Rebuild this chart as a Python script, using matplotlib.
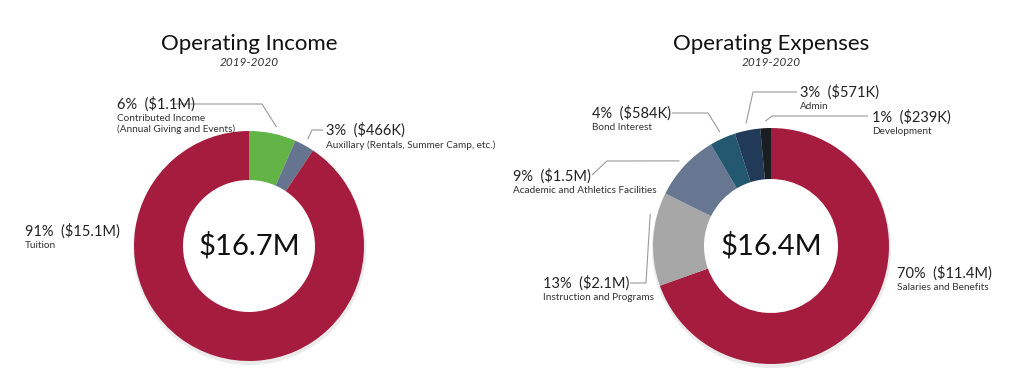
import numpy as np
import matplotlib
matplotlib.use("Agg")
import matplotlib.pyplot as plt

W, H = 1032, 391
plt.rcParams['font.family'] = ['Lato', 'DejaVu Sans']

# Operating income 2019-2020 ($M)
inc_names = ['Contributed Income\n(Annual Giving and Events)',
             'Auxillary (Rentals, Summer Camp, etc.)', 'Tuition']
inc_values = [1.1, 0.466, 15.1]
inc_pct = ['6%', '3%', '91%']
inc_amt = ['$1.1M', '$466K', '$15.1M']
inc_colors = ['#62b446', '#66758f', '#a51c3f']

# Operating expenses 2019-2020 ($M)
exp_names = ['Salaries and Benefits', 'Instruction and Programs',
             'Academic and Athletics Facilities', 'Bond Interest', 'Admin', 'Development']
exp_values = [11.4, 2.1, 1.5, 0.584, 0.571, 0.239]
exp_pct = ['70%', '13%', '9%', '4%', '3%', '1%']
exp_amt = ['$11.4M', '$2.1M', '$1.5M', '$584K', '$571K', '$239K']
exp_colors = ['#a51c3f', '#a7a7a7', '#677791', '#235870', '#213a58', '#1a1e22']

fig = plt.figure(figsize=(W / 100, H / 100), dpi=100)
ax = fig.add_axes([0, 0, 1, 1])


def Y(y):
    return H - y


def donut(cx, cy, r, r_in, values, colors, total, title):
    # faint drop shadow outside the ring only
    ax.pie([1], colors=['#ebebeb'], radius=r + 1.5, center=(cx + 0.5, Y(cy + 2.5)), frame=True,
           wedgeprops=dict(width=r - r_in - 8, edgecolor='none', linewidth=0))
    ax.pie(values, colors=colors, startangle=90, counterclock=False,
           radius=r, center=(cx, Y(cy)), frame=True,
           wedgeprops=dict(width=r - r_in, edgecolor='none', linewidth=0))
    ax.text(cx, Y(cy), total, ha='center', va='center', fontsize=21, color='#111111')
    ax.text(cx, Y(44), title, ha='center', va='center', fontsize=16, color='#111111')
    ax.text(cx, Y(63), '2019-2020', ha='center', va='center', fontsize=8.5,
            style='italic', color='#333333')
    return np.cumsum([0] + list(values)) / sum(values)


def label(x, y, pct, amt, name):
    ax.text(x, Y(y), f'{pct}  ({amt})', ha='left', va='center', fontsize=10.5, color='#222222')
    ax.text(x, Y(y + 10), name, ha='left', va='top', fontsize=7.2, color='#333333',
            linespacing=1.25)


def leader(cx, cy, r, frac, pos, path):
    ang = np.deg2rad(90 - 360 * (frac[pos[0]] + pos[1] * (frac[pos[0] + 1] - frac[pos[0]])))
    px = cx + r * np.cos(ang)
    py = cy - r * np.sin(ang)
    xs = [p[0] for p in path] + [px]
    ys = [Y(p[1]) for p in path] + [Y(py)]
    ax.plot(xs, ys, color='#9a9a9a', lw=0.8, solid_capstyle='butt')


# income donut
icx, icy = 249, 246
fi = donut(icx, icy, 115, 66, inc_values, inc_colors, '$16.7M', 'Operating Income')
label(117, 104, inc_pct[0], inc_amt[0], inc_names[0])
leader(icx, icy, 122, fi, (0, 0.55), [(172, 104), (262, 104)])
label(326, 130, inc_pct[1], inc_amt[1], inc_names[1])
leader(icx, icy, 122, fi, (1, 0.5), [(323, 130), (312, 130)])
label(25, 231, inc_pct[2], inc_amt[2], inc_names[2])

# expenses donut
ecx, ecy = 771, 246
fe = donut(ecx, ecy, 118, 67, exp_values, exp_colors, '$16.4M', 'Operating Expenses')
label(897, 273, exp_pct[0], exp_amt[0], exp_names[0])
label(543, 283, exp_pct[1], exp_amt[1], exp_names[1])
leader(ecx, ecy, 125, fe, (1, 0.75), [(630, 283), (646, 283)])
label(513, 176, exp_pct[2], exp_amt[2], exp_names[2])
leader(ecx, ecy, 125, fe, (2, 0.5), [(592, 175), (607, 161)])
label(592, 113, exp_pct[3], exp_amt[3], exp_names[3])
leader(ecx, ecy, 125, fe, (3, 0.5), [(672, 113), (708, 113)])
label(800, 92, exp_pct[4], exp_amt[4], exp_names[4])
leader(ecx, ecy, 125, fe, (4, 0.5), [(797, 92), (753, 92)])
label(872, 117, exp_pct[5], exp_amt[5], exp_names[5])
leader(ecx, ecy, 125, fe, (5, 0.5), [(868, 116), (772, 116)])

ax.set_xlim(0, W)
ax.set_ylim(0, H)
ax.set_aspect('equal')
ax.axis('off')
fig.savefig('out.png', dpi=100, facecolor='white')
